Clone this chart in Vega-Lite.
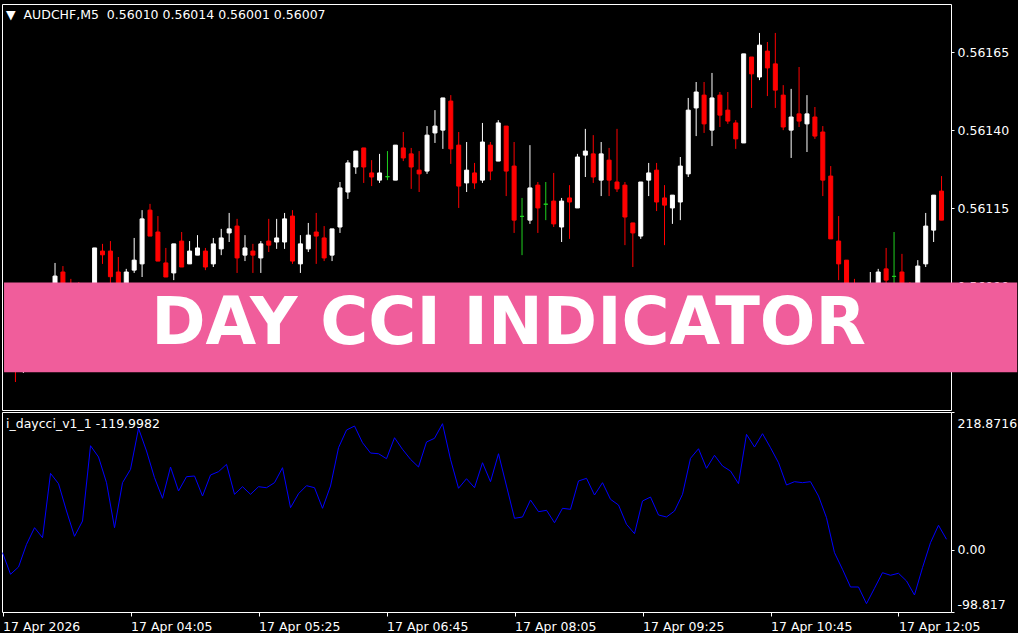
{
  "$schema": "https://vega.github.io/schema/vega-lite/v6.json",
  "background": "#000000",
  "padding": {"left": 0, "top": 3, "right": 0, "bottom": 0},
  "spacing": 2,
  "bounds": "flush",
  "datasets": {
    "bars": [
      {"t":"2026-04-17T02:45","o":0.560853,"h":0.560879,"l":0.560709,"c":0.560757,"cci":-4.6},
      {"t":"2026-04-17T02:50","o":0.560789,"h":0.560821,"l":0.560594,"c":0.560693,"cci":-38.9},
      {"t":"2026-04-17T02:55","o":0.560709,"h":0.560773,"l":0.560623,"c":0.560757,"cci":-27.3},
      {"t":"2026-04-17T03:00","o":0.560757,"h":0.560853,"l":0.560741,"c":0.560821,"cci":8.7},
      {"t":"2026-04-17T03:05","o":0.560815,"h":0.560892,"l":0.560796,"c":0.560869,"cci":35.1},
      {"t":"2026-04-17T03:10","o":0.560860,"h":0.560885,"l":0.560805,"c":0.560837,"cci":19.2},
      {"t":"2026-04-17T03:15","o":0.560853,"h":0.560975,"l":0.560821,"c":0.560933,"cci":121.4},
      {"t":"2026-04-17T03:20","o":0.560946,"h":0.560965,"l":0.560853,"c":0.560885,"cci":105.0},
      {"t":"2026-04-17T03:25","o":0.560879,"h":0.560924,"l":0.560821,"c":0.560853,"cci":61.6},
      {"t":"2026-04-17T03:30","o":0.560869,"h":0.560914,"l":0.560805,"c":0.560837,"cci":21.4},
      {"t":"2026-04-17T03:35","o":0.560821,"h":0.560901,"l":0.560815,"c":0.560885,"cci":45.7},
      {"t":"2026-04-17T03:40","o":0.560869,"h":0.561023,"l":0.560853,"c":0.561023,"cci":165.3},
      {"t":"2026-04-17T03:45","o":0.561013,"h":0.561036,"l":0.560972,"c":0.561001,"cci":147.4},
      {"t":"2026-04-17T03:50","o":0.561013,"h":0.561045,"l":0.560885,"c":0.560931,"cci":106.6},
      {"t":"2026-04-17T03:55","o":0.560946,"h":0.560994,"l":0.560853,"c":0.560869,"cci":35.1},
      {"t":"2026-04-17T04:00","o":0.560885,"h":0.560956,"l":0.560869,"c":0.560946,"cci":106.6},
      {"t":"2026-04-17T04:05","o":0.560952,"h":0.561055,"l":0.560943,"c":0.560984,"cci":127.8},
      {"t":"2026-04-17T04:10","o":0.560972,"h":0.561144,"l":0.560930,"c":0.561116,"cci":192.9},
      {"t":"2026-04-17T04:15","o":0.561144,"h":0.561164,"l":0.561061,"c":0.561061,"cci":156.9},
      {"t":"2026-04-17T04:20","o":0.561074,"h":0.561125,"l":0.560981,"c":0.560981,"cci":114.5},
      {"t":"2026-04-17T04:25","o":0.560975,"h":0.561023,"l":0.560930,"c":0.560930,"cci":81.8},
      {"t":"2026-04-17T04:30","o":0.560943,"h":0.561036,"l":0.560920,"c":0.561036,"cci":131.5},
      {"t":"2026-04-17T04:35","o":0.561045,"h":0.561074,"l":0.560962,"c":0.560962,"cci":93.4},
      {"t":"2026-04-17T04:40","o":0.560972,"h":0.561045,"l":0.560972,"c":0.561013,"cci":116.1},
      {"t":"2026-04-17T04:45","o":0.561000,"h":0.561064,"l":0.561000,"c":0.561023,"cci":117.2},
      {"t":"2026-04-17T04:50","o":0.561013,"h":0.561023,"l":0.560952,"c":0.560962,"cci":85.4},
      {"t":"2026-04-17T04:55","o":0.560972,"h":0.561055,"l":0.560962,"c":0.561036,"cci":118.8},
      {"t":"2026-04-17T05:00","o":0.561020,"h":0.561084,"l":0.561000,"c":0.561055,"cci":124.1},
      {"t":"2026-04-17T05:05","o":0.561071,"h":0.561135,"l":0.561042,"c":0.561084,"cci":135.7},
      {"t":"2026-04-17T05:10","o":0.561093,"h":0.561116,"l":0.560943,"c":0.560991,"cci":88.1},
      {"t":"2026-04-17T05:15","o":0.561000,"h":0.561064,"l":0.560981,"c":0.561023,"cci":100.2},
      {"t":"2026-04-17T05:20","o":0.561013,"h":0.561036,"l":0.560943,"c":0.561000,"cci":88.1},
      {"t":"2026-04-17T05:25","o":0.560991,"h":0.561045,"l":0.560943,"c":0.561036,"cci":100.2},
      {"t":"2026-04-17T05:30","o":0.561045,"h":0.561116,"l":0.561010,"c":0.561032,"cci":98.6},
      {"t":"2026-04-17T05:35","o":0.561042,"h":0.561116,"l":0.561020,"c":0.561055,"cci":106.6},
      {"t":"2026-04-17T05:40","o":0.561042,"h":0.561135,"l":0.561020,"c":0.561116,"cci":130.4},
      {"t":"2026-04-17T05:45","o":0.561125,"h":0.561144,"l":0.560972,"c":0.560981,"cci":66.9},
      {"t":"2026-04-17T05:50","o":0.560972,"h":0.561064,"l":0.560943,"c":0.561036,"cci":89.1},
      {"t":"2026-04-17T05:55","o":0.561020,"h":0.561103,"l":0.561010,"c":0.561064,"cci":101.8},
      {"t":"2026-04-17T06:00","o":0.561074,"h":0.561135,"l":0.560972,"c":0.561061,"cci":98.6},
      {"t":"2026-04-17T06:05","o":0.561055,"h":0.561093,"l":0.560981,"c":0.560991,"cci":65.9},
      {"t":"2026-04-17T06:10","o":0.561000,"h":0.561084,"l":0.560981,"c":0.561084,"cci":101.3},
      {"t":"2026-04-17T06:15","o":0.561090,"h":0.561234,"l":0.561071,"c":0.561215,"cci":162.2},
      {"t":"2026-04-17T06:20","o":0.561202,"h":0.561304,"l":0.561180,"c":0.561295,"cci":190.2},
      {"t":"2026-04-17T06:25","o":0.561282,"h":0.561333,"l":0.561260,"c":0.561333,"cci":196.6},
      {"t":"2026-04-17T06:30","o":0.561343,"h":0.561343,"l":0.561231,"c":0.561282,"cci":170.1},
      {"t":"2026-04-17T06:35","o":0.561263,"h":0.561304,"l":0.561221,"c":0.561250,"cci":153.7},
      {"t":"2026-04-17T06:40","o":0.561240,"h":0.561324,"l":0.561231,"c":0.561263,"cci":152.6},
      {"t":"2026-04-17T06:45","o":0.561251,"h":0.561333,"l":0.561240,"c":0.561251,"cci":144.7},
      {"t":"2026-04-17T06:50","o":0.561240,"h":0.561352,"l":0.561240,"c":0.561352,"cci":178.0},
      {"t":"2026-04-17T06:55","o":0.561343,"h":0.561394,"l":0.561301,"c":0.561311,"cci":159.6},
      {"t":"2026-04-17T07:00","o":0.561324,"h":0.561343,"l":0.561212,"c":0.561282,"cci":143.7},
      {"t":"2026-04-17T07:05","o":0.561272,"h":0.561333,"l":0.561202,"c":0.561260,"cci":131.5},
      {"t":"2026-04-17T07:10","o":0.561269,"h":0.561413,"l":0.561260,"c":0.561384,"cci":171.2},
      {"t":"2026-04-17T07:15","o":0.561391,"h":0.561464,"l":0.561359,"c":0.561413,"cci":177.1},
      {"t":"2026-04-17T07:20","o":0.561400,"h":0.561503,"l":0.561340,"c":0.561503,"cci":200.3},
      {"t":"2026-04-17T07:25","o":0.561493,"h":0.561512,"l":0.561292,"c":0.561340,"cci":143.7},
      {"t":"2026-04-17T07:30","o":0.561352,"h":0.561394,"l":0.561151,"c":0.561221,"cci":97.7},
      {"t":"2026-04-17T07:35","o":0.561231,"h":0.561362,"l":0.561202,"c":0.561272,"cci":112.9},
      {"t":"2026-04-17T07:40","o":0.561263,"h":0.561295,"l":0.561212,"c":0.561231,"cci":98.6},
      {"t":"2026-04-17T07:45","o":0.561240,"h":0.561423,"l":0.561231,"c":0.561362,"cci":138.3},
      {"t":"2026-04-17T07:50","o":0.561352,"h":0.561362,"l":0.561240,"c":0.561269,"cci":108.2},
      {"t":"2026-04-17T07:55","o":0.561301,"h":0.561432,"l":0.561301,"c":0.561423,"cci":152.6},
      {"t":"2026-04-17T08:00","o":0.561413,"h":0.561413,"l":0.561189,"c":0.561269,"cci":101.3},
      {"t":"2026-04-17T08:05","o":0.561285,"h":0.561362,"l":0.561071,"c":0.561112,"cci":50.0},
      {"t":"2026-04-17T08:10","o":0.561124,"h":0.561183,"l":0.561000,"c":0.561124,"cci":52.1},
      {"t":"2026-04-17T08:15","o":0.561112,"h":0.561352,"l":0.561100,"c":0.561215,"cci":79.1},
      {"t":"2026-04-17T08:20","o":0.561224,"h":0.561234,"l":0.561071,"c":0.561151,"cci":60.5},
      {"t":"2026-04-17T08:25","o":0.561163,"h":0.561234,"l":0.561112,"c":0.561163,"cci":62.7},
      {"t":"2026-04-17T08:30","o":0.561173,"h":0.561263,"l":0.561090,"c":0.561100,"cci":43.0},
      {"t":"2026-04-17T08:35","o":0.561090,"h":0.561183,"l":0.561042,"c":0.561173,"cci":65.9},
      {"t":"2026-04-17T08:40","o":0.561183,"h":0.561224,"l":0.561052,"c":0.561170,"cci":64.3},
      {"t":"2026-04-17T08:45","o":0.561151,"h":0.561324,"l":0.561151,"c":0.561314,"cci":109.3},
      {"t":"2026-04-17T08:50","o":0.561320,"h":0.561404,"l":0.561250,"c":0.561333,"cci":113.5},
      {"t":"2026-04-17T08:55","o":0.561324,"h":0.561384,"l":0.561231,"c":0.561250,"cci":87.0},
      {"t":"2026-04-17T09:00","o":0.561240,"h":0.561362,"l":0.561189,"c":0.561324,"cci":106.6},
      {"t":"2026-04-17T09:05","o":0.561304,"h":0.561343,"l":0.561189,"c":0.561240,"cci":80.2},
      {"t":"2026-04-17T09:10","o":0.561234,"h":0.561404,"l":0.561202,"c":0.561212,"cci":71.1},
      {"t":"2026-04-17T09:15","o":0.561224,"h":0.561234,"l":0.561032,"c":0.561122,"cci":40.5},
      {"t":"2026-04-17T09:20","o":0.561103,"h":0.561103,"l":0.560962,"c":0.561071,"cci":25.6},
      {"t":"2026-04-17T09:25","o":0.561061,"h":0.561234,"l":0.561052,"c":0.561234,"cci":77.5},
      {"t":"2026-04-17T09:30","o":0.561240,"h":0.561295,"l":0.561189,"c":0.561263,"cci":83.8},
      {"t":"2026-04-17T09:35","o":0.561272,"h":0.561295,"l":0.561141,"c":0.561170,"cci":55.3},
      {"t":"2026-04-17T09:40","o":0.561183,"h":0.561224,"l":0.561032,"c":0.561160,"cci":52.1},
      {"t":"2026-04-17T09:45","o":0.561151,"h":0.561192,"l":0.561100,"c":0.561192,"cci":61.6},
      {"t":"2026-04-17T09:50","o":0.561170,"h":0.561314,"l":0.561112,"c":0.561285,"cci":88.1},
      {"t":"2026-04-17T09:55","o":0.561260,"h":0.561503,"l":0.561250,"c":0.561464,"cci":145.3},
      {"t":"2026-04-17T10:00","o":0.561471,"h":0.561554,"l":0.561381,"c":0.561522,"cci":160.5},
      {"t":"2026-04-17T10:05","o":0.561512,"h":0.561554,"l":0.561391,"c":0.561420,"cci":129.4},
      {"t":"2026-04-17T10:10","o":0.561400,"h":0.561583,"l":0.561349,"c":0.561503,"cci":150.1},
      {"t":"2026-04-17T10:15","o":0.561512,"h":0.561522,"l":0.561410,"c":0.561448,"cci":133.1},
      {"t":"2026-04-17T10:20","o":0.561464,"h":0.561522,"l":0.561420,"c":0.561429,"cci":125.1},
      {"t":"2026-04-17T10:25","o":0.561423,"h":0.561432,"l":0.561340,"c":0.561372,"cci":105.0},
      {"t":"2026-04-17T10:30","o":0.561359,"h":0.561644,"l":0.561359,"c":0.561644,"cci":183.4},
      {"t":"2026-04-17T10:35","o":0.561634,"h":0.561634,"l":0.561471,"c":0.561580,"cci":163.2},
      {"t":"2026-04-17T10:40","o":0.561570,"h":0.561711,"l":0.561560,"c":0.561672,"cci":184.4},
      {"t":"2026-04-17T10:45","o":0.561653,"h":0.561682,"l":0.561509,"c":0.561599,"cci":162.2},
      {"t":"2026-04-17T10:50","o":0.561612,"h":0.561711,"l":0.561471,"c":0.561528,"cci":138.3},
      {"t":"2026-04-17T10:55","o":0.561512,"h":0.561544,"l":0.561400,"c":0.561410,"cci":102.9},
      {"t":"2026-04-17T11:00","o":0.561400,"h":0.561532,"l":0.561311,"c":0.561442,"cci":108.2},
      {"t":"2026-04-17T11:05","o":0.561452,"h":0.561602,"l":0.561410,"c":0.561429,"cci":106.6},
      {"t":"2026-04-17T11:10","o":0.561420,"h":0.561512,"l":0.561330,"c":0.561452,"cci":108.2},
      {"t":"2026-04-17T11:15","o":0.561442,"h":0.561474,"l":0.561372,"c":0.561381,"cci":85.4},
      {"t":"2026-04-17T11:20","o":0.561394,"h":0.561413,"l":0.561189,"c":0.561240,"cci":51.0},
      {"t":"2026-04-17T11:25","o":0.561253,"h":0.561285,"l":0.561052,"c":0.561052,"cci":-4.6},
      {"t":"2026-04-17T11:30","o":0.561045,"h":0.561125,"l":0.560920,"c":0.560972,"cci":-31.0},
      {"t":"2026-04-17T11:35","o":0.560984,"h":0.560984,"l":0.560821,"c":0.560853,"cci":-59.1},
      {"t":"2026-04-17T11:40","o":0.560853,"h":0.560924,"l":0.560773,"c":0.560805,"cci":-59.1},
      {"t":"2026-04-17T11:45","o":0.560815,"h":0.560853,"l":0.560725,"c":0.560757,"cci":-85.6},
      {"t":"2026-04-17T11:50","o":0.560773,"h":0.560946,"l":0.560741,"c":0.560853,"cci":-61.1},
      {"t":"2026-04-17T11:55","o":0.560853,"h":0.560956,"l":0.560821,"c":0.560946,"cci":-36.4},
      {"t":"2026-04-17T12:00","o":0.560956,"h":0.561023,"l":0.560885,"c":0.560920,"cci":-40.5},
      {"t":"2026-04-17T12:05","o":0.560932,"h":0.561074,"l":0.560853,"c":0.560932,"cci":-37.3},
      {"t":"2026-04-17T12:10","o":0.560946,"h":0.561004,"l":0.560853,"c":0.560885,"cci":-49.5},
      {"t":"2026-04-17T12:15","o":0.560885,"h":0.560914,"l":0.560805,"c":0.560837,"cci":-71.8},
      {"t":"2026-04-17T12:20","o":0.560869,"h":0.560984,"l":0.560853,"c":0.560965,"cci":-28.4},
      {"t":"2026-04-17T12:25","o":0.560972,"h":0.561135,"l":0.560962,"c":0.561093,"cci":11.3},
      {"t":"2026-04-17T12:30","o":0.561080,"h":0.561192,"l":0.561042,"c":0.561192,"cci":38.9},
      {"t":"2026-04-17T12:35","o":0.561205,"h":0.561253,"l":0.561112,"c":0.561112,"cci":16.7}
    ]
  },
  "vconcat": [
    {
      "width": 949,
      "height": 406,
      "title": {"text": "\u25bc\u00a0\u00a0AUDCHF,M5\u00a0\u00a00.56010 0.56014 0.56001 0.56007", "offset": -23, "dx": 4, "baseline": "middle"},
      "data": {"name": "bars"},
      "layer": [
        {
          "mark": {"type": "rule", "strokeWidth": 1},
          "encoding": {
            "x": {"field": "t", "type": "temporal", "axis": null,
                  "scale": {"domain": [{"year":2026,"month":4,"date":17,"hours":2,"minutes":44,"seconds":40},{"year":2026,"month":4,"date":17,"hours":12,"minutes":37,"seconds":49}]}},
            "y": {"field": "l", "type": "quantitative",
                  "scale": {"domain": [0.5605044, 0.5618036], "nice": false, "zero": false},
                  "axis": {"orient": "right", "values": [0.56165, 0.5614, 0.56115, 0.5609, 0.56065], "format": ".5f", "title": null, "labelFlush": false}},
            "y2": {"field": "h"},
            "color": {"condition": [{"test": "datum.c < datum.o", "value": "#ff0000"}, {"test": "datum.c == datum.o", "value": "#1fd11f"}], "value": "#ffffff"}
          }
        },
        {
          "mark": {"type": "bar", "size": 4, "strokeWidth": 1},
          "encoding": {
            "x": {"field": "t", "type": "temporal"},
            "y": {"field": "o", "type": "quantitative"},
            "y2": {"field": "c"},
            "fill": {"condition": [{"test": "datum.c < datum.o", "value": "#ff0000"}, {"test": "datum.c == datum.o", "value": "#1fd11f"}], "value": "#ffffff"},
            "stroke": {"condition": [{"test": "datum.c < datum.o", "value": "#ff0000"}, {"test": "datum.c == datum.o", "value": "#1fd11f"}], "value": "#ffffff"}
          }
        },
        {
          "data": {"values": [{}]},
          "mark": {"type": "rect", "color": "#f05d9b", "clip": false},
          "encoding": {
            "x": {"datum": {"year":2026,"month":4,"date":17,"hours":2,"minutes":42,"seconds":48}, "type": "temporal"},
            "x2": {"datum": {"year":2026,"month":4,"date":17,"hours":13,"minutes":22,"seconds":47}},
            "y": {"datum": 0.5609124, "type": "quantitative"},
            "y2": {"datum": 0.560625}
          }
        },
        {
          "data": {"values": [{}]},
          "mark": {"type": "text", "text": "DAY CCI INDICATOR", "font": "DejaVu Sans", "fontWeight": "bold", "fontSize": 65.5, "color": "#ffffff", "align": "center", "baseline": "alphabetic", "clip": false},
          "encoding": {
            "x": {"datum": {"year":2026,"month":4,"date":17,"hours":8,"minutes":1,"seconds":32}, "type": "temporal"},
            "y": {"datum": 0.5607156, "type": "quantitative"}
          }
        }
      ]
    },
    {
      "width": 949,
      "height": 200,
      "title": {"text": "i_daycci_v1_1 -119.9982", "offset": -25, "dx": 4, "baseline": "middle"},
      "data": {"name": "bars"},
      "mark": {"type": "line", "color": "#0000ff", "strokeWidth": 1},
      "encoding": {
        "x": {"field": "t", "type": "temporal",
              "scale": {"domain": [{"year":2026,"month":4,"date":17,"hours":2,"minutes":44,"seconds":40},{"year":2026,"month":4,"date":17,"hours":12,"minutes":37,"seconds":49}]},
              "axis": {"title": null, "values": [
                {"year":2026,"month":4,"date":17,"hours":2,"minutes":45},
                {"year":2026,"month":4,"date":17,"hours":4,"minutes":5},
                {"year":2026,"month":4,"date":17,"hours":5,"minutes":25},
                {"year":2026,"month":4,"date":17,"hours":6,"minutes":45},
                {"year":2026,"month":4,"date":17,"hours":8,"minutes":5},
                {"year":2026,"month":4,"date":17,"hours":9,"minutes":25},
                {"year":2026,"month":4,"date":17,"hours":10,"minutes":45},
                {"year":2026,"month":4,"date":17,"hours":12,"minutes":5}],
                "labelExpr": "datum.index == 0 ? '17 Apr 2026' : timeFormat(datum.value, '%d %b %H:%M')",
                "labelAlign": "left", "labelBaseline": "top", "labelFlush": false, "labelOverlap": false, "tickSize": 4, "labelPadding": 4}},
        "y": {"field": "cci", "type": "quantitative",
              "scale": {"domain": [-98.817, 218.8716], "nice": false, "zero": false},
              "axis": {"orient": "right", "title": null, "values": [218.8716, 0, -98.817], "labelFlush": false,
                       "labelExpr": "datum.value == 0 ? '0.00' : toString(datum.value)",
                       "labelOffset": {"condition": [{"test": "datum.value > 100", "value": 11}, {"test": "datum.value < -50", "value": -8}], "value": 0}}}
      }
    }
  ],
  "config": {
    "view": {"stroke": "#ffffff", "strokeWidth": 1, "fill": "#000000"},
    "axis": {"labelColor": "#ffffff", "tickColor": "#ffffff", "domain": false, "grid": false, "labelFont": "DejaVu Sans", "labelFontSize": 12.5, "tickSize": 3, "labelPadding": 3},
    "title": {"color": "#ffffff", "font": "DejaVu Sans", "fontSize": 12.5, "fontWeight": "normal", "anchor": "start", "frame": "group"}
  }
}
